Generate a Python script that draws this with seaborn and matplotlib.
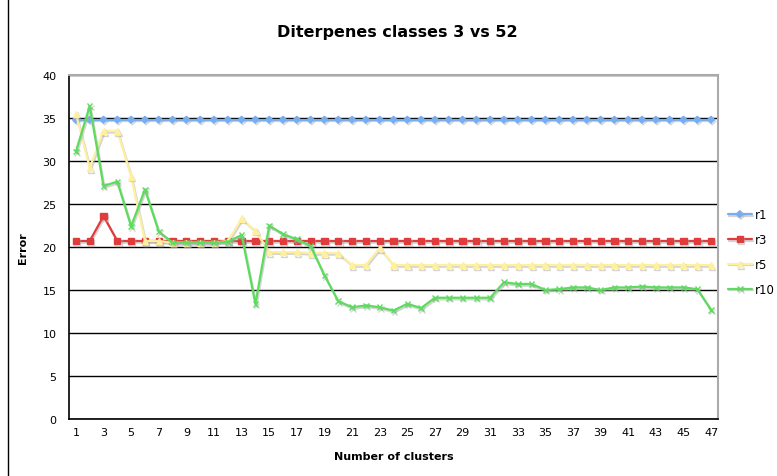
import numpy as np
import pandas as pd
import matplotlib
matplotlib.use("Agg")
import matplotlib.pyplot as plt
import matplotlib.patheffects as pe
from matplotlib.lines import Line2D
import seaborn as sns

# data
clusters = list(range(1, 48))
r1 = [34.8] * 47
r3 = [20.7, 20.7, 23.6] + [20.7] * 44
r5 = [35.5, 29.2, 33.5, 33.5, 28.2, 20.7, 20.7, 20.5, 20.5, 20.5,
      20.5, 20.7, 23.3, 21.9, 19.4, 19.4, 19.4, 19.3, 19.3, 19.3,
      17.9, 17.9, 19.9] + [17.9] * 24
r10 = [31.1, 36.4, 27.1, 27.6, 22.4, 26.7, 21.8, 20.5, 20.5, 20.5,
       20.5, 20.6, 21.4, 13.4, 22.5, 21.5, 20.9, 20.1, 16.7, 13.7,
       13.0, 13.2, 13.0, 12.6, 13.4, 12.9, 14.1, 14.1, 14.1, 14.1,
       14.1, 15.9, 15.7, 15.7, 15.0, 15.1, 15.3, 15.3, 15.0, 15.3,
       15.3, 15.4, 15.3, 15.3, 15.3, 15.1, 12.7]
series_names = ["r1", "r3", "r5", "r10"]
colors = ["#78aef0", "#e03c3c", "#fff0a0", "#5cdc5c"]
markers = ["D", "s", "^", "x"]
msizes = [3.5, 4.5, 4.5, 4]

df = pd.DataFrame({"clusters": clusters, "r1": r1, "r3": r3, "r5": r5, "r10": r10})
long = df.melt(id_vars="clusters", var_name="series", value_name="error")

sns.set_style("white")
plt.rcParams["font.family"] = ["DejaVu Sans"]
plt.rcParams["text.color"] = "black"
plt.rcParams["axes.labelcolor"] = "black"
plt.rcParams["xtick.color"] = "black"
plt.rcParams["ytick.color"] = "black"

fig = plt.figure(figsize=(7.77, 4.77), dpi=100)
ax = fig.add_axes([69 / 777, 57 / 477, 649 / 777, 344 / 477])

shadow = [pe.SimpleLineShadow(offset=(0.8, -1.2), shadow_color="#aaaaaa", alpha=0.5), pe.Normal()]

for name, c, m, ms in zip(series_names, colors, markers, msizes):
    sub = long[long["series"] == name]
    sns.lineplot(data=sub, x="clusters", y="error", ax=ax, color=c, marker=m,
                 markersize=ms, markeredgecolor=c, markeredgewidth=1.0,
                 linewidth=1.6, label=name, path_effects=shadow)

ax.set_xlim(0.5, 47.5)
ax.set_ylim(0, 40)
ax.set_yticks(np.arange(0, 41, 5))
ax.set_xticks(clusters[::2])
ax.set_xticklabels([str(v) for v in clusters[::2]], fontsize=8)
ax.set_xticks(np.arange(0.5, 48, 1), minor=True)
ax.tick_params(axis="x", which="major", length=0, pad=6)
ax.tick_params(axis="x", which="minor", length=4, width=1, color="black", direction="out")
ax.tick_params(axis="y", length=5, width=1, color="black", direction="out", labelsize=8, pad=4)
ax.grid(axis="y", color="black", linewidth=1)
ax.grid(axis="x", visible=False)

for side in ["left", "bottom"]:
    ax.spines[side].set_color("black")
    ax.spines[side].set_linewidth(1.2)
for side in ["top", "right"]:
    ax.spines[side].set_color("#aaaaaa")
    ax.spines[side].set_linewidth(1.5)

ax.set_xlabel("Number of clusters", fontsize=8, fontweight="bold", labelpad=10)
ax.set_ylabel("Error", fontsize=8, fontweight="bold", labelpad=10)
fig.text(397 / 777, 1 - 33 / 477, "Diterpenes classes 3 vs 52", ha="center", va="center",
         fontsize=11.5, fontweight="bold", color="black")

ax.legend(loc="center left", bbox_to_anchor=(728 / 777, 1 - 253 / 477),
          bbox_transform=fig.transFigure, frameon=False, fontsize=8.5,
          handlelength=2.0, handletextpad=0.3, labelspacing=1.0,
          borderpad=0, borderaxespad=0, labelcolor="black")

# outer chart border on the left
fig.add_artist(Line2D([8 / 777, 8 / 777], [0, 1], transform=fig.transFigure, color="black", linewidth=1))

fig.savefig("out.png", dpi=100)
